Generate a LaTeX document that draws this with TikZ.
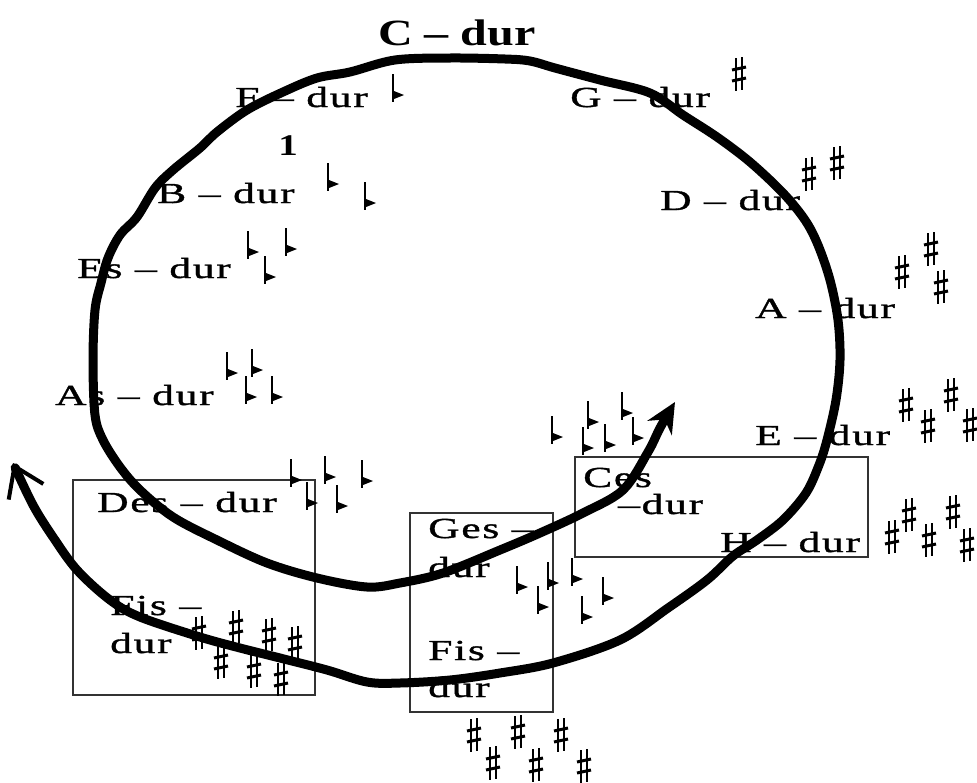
\documentclass[tikz,border=0pt]{standalone}
\usepackage{fontspec}
\setmainfont{Liberation Serif}
\newfontfamily\keyfont[FakeStretch=1.5, FakeBold=1.2, LetterSpace=6]{Liberation Serif}
\newfontfamily\topfont[FakeStretch=1.3]{Liberation Serif Bold}
\usetikzlibrary{arrows.meta}

\begin{document}
\begin{tikzpicture}[
    x=1pt, y=-1pt,
    lbl/.style={anchor=base west, inner sep=0pt, font=\keyfont\fontsize{29}{34}\selectfont},
    toplbl/.style={anchor=base west, inner sep=0pt, font=\topfont\fontsize{37}{42}\selectfont},
    keybox/.style={draw=black!80, line width=1.3pt},
    spiral/.style={line width=9pt, line join=round, line cap=round,
        arrows={Stealth[length=30pt,width=28pt]-Straight Barb[length=28pt,width=38pt,line width=4pt]}},
    flatsign/.pic={\draw[line width=2pt] (-5,-21) -- (-5,7); \fill (-4,-4) -- (6,0) -- (-4,4) -- cycle;},
    sharpsign/.pic={\draw[line width=1.5pt] (-3,-16) -- (-3,17) (3,-17) -- (3,16);
        \draw[line width=3pt] (-7,-4) -- (7,-7) (-7,7) -- (7,4);}
]
\useasboundingbox (0,0) rectangle (977,782);

% boxes
\draw[keybox] (575,457) rectangle (868,557);
\draw[keybox] (73,480) rectangle (315,695);
\draw[keybox] (410,513) rectangle (553,712);

% keys
\node (cdur) [toplbl] at (378,45) {C – dur};
\node (fdur) [lbl] at (235,107) {F – dur};
\node (one) [font=\topfont\fontsize{30}{34}\selectfont, inner sep=0pt] at (288,146) {1};
\node (bdur) [lbl] at (157,203) {B – dur};
\node (esdur) [lbl] at (77,278) {Es – dur};
\node (asdur) [lbl] at (55,405) {As – dur};
\node (gdur) [lbl] at (570,107) {G – dur};
\node (ddur) [lbl] at (660,210) {D – dur};
\node (adur) [lbl] at (755,318) {A – dur};
\node (edur) [lbl] at (755,445) {E – dur};
\node (desdur) [lbl] at (97,512) {Des – dur};
\node (ces) [lbl] at (583,487) {Ces};
\node (cesdur) [lbl] at (618,514) {–dur};
\node (hdur) [lbl] at (720,552) {H – dur};
\node (gesa) [lbl] at (428,538) {Ges –};
\node (gesb) [lbl] at (428,577) {dur};
\node (fisa) [lbl] at (428,660) {Fis –};
\node (fisb) [lbl] at (428,697) {dur};
\node (fisc) [lbl] at (110,615) {Fis –};
\node (fisd) [lbl] at (110,653) {dur};

% flats
\foreach \p in {(398,95), (333,184), (370,203),
    (253,252), (291,249), (270,277),
    (232,373), (257,370), (251,397), (277,397),
    (296,480), (330,477), (367,481), (312,503), (342,506),
    (522,587), (543,607), (553,583), (577,579), (587,617), (608,598),
    (557,437), (593,422), (588,448), (610,445), (627,413), (638,438)}
    \pic at \p {flatsign};

% sharps
\foreach \p in {(739,74), (809,174), (837,163),
    (902,272), (931,249), (941,287),
    (906,405), (928,426), (951,395), (970,425),
    (892,537), (909,515), (929,540), (953,512), (967,545),
    (474,735), (518,732), (561,735), (493,763), (536,765), (584,766),
    (199,633), (236,627), (221,662), (269,635), (295,643), (254,671), (281,679)}
    \pic at \p {sharpsign};

% spiral
\coordinate (inner) at (675,402);
\coordinate (outer) at (13,463);
\draw[spiral] plot[smooth, tension=0.55] coordinates {(inner) (660,428) (648,452) (623,490) (583,513)
    (540,533) (500,550) (443,573) (400,583) (367,587) (317,578) (267,563) (217,540)
    (173,517) (140,490) (120,467) (103,440) (95,415) (93,360) (95,310) (101,283)
    (108,258) (120,235) (137,217) (155,188) (173,170) (200,148) (217,132) (247,110)
    (283,92) (317,78) (350,72) (395,60) (450,58) (505,59) (530,61) (555,68) (600,80)
    (650,93) (683,115) (717,137) (750,162) (783,193) (805,220) (818,245) (830,280)
    (838,320) (840,360) (836,400) (827,440) (819,465) (806,493) (783,520) (757,540)
    (733,556) (707,580) (668,608) (620,640) (553,663) (500,673) (450,680) (400,683)
    (367,682) (327,670) (280,658) (240,648) (200,637) (140,617) (110,600) (77,570)
    (53,537) (33,505) (outer)};
\end{tikzpicture}
\end{document}
